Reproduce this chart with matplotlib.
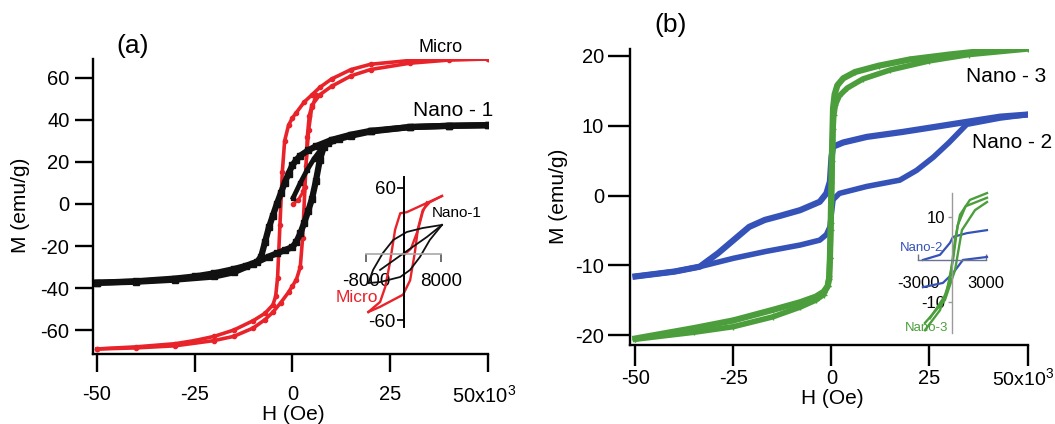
import matplotlib
matplotlib.use('Agg')
import matplotlib.pyplot as plt

plt.rcParams['font.family'] = ['Liberation Sans', 'DejaVu Sans']
plt.rcParams['mathtext.fontset'] = 'custom'
plt.rcParams['mathtext.rm'] = 'Liberation Sans'
plt.rcParams['mathtext.it'] = 'Liberation Sans'

W, H = 1055, 424
RED, BLACK, GREEN, BLUE = '#e8232a', '#111111', '#4c9e3c', '#3552b8'

# ---- panel (a): H in kOe, M in emu/g ----
micro_dn_h = [50, 40, 30, 20, 15, 10, 7, 5, 3, 1, 0, -1, -2, -2.6, -3.2, -3.8, -4.3, -5, -7, -10, -15, -20, -25, -30, -40, -50]
micro_dn_m = [69, 68.8, 68.3, 66.5, 64, 59.5, 55.5, 52, 48.5, 43.5, 41, 37.5, 30, 15, -10, -35, -44, -48, -52, -55.5, -60, -63, -65, -66.5, -68, -69]
micro_up_h = [-50, -40, -30, -20, -15, -10, -7, -5, -3, -1, 0, 1, 2, 2.6, 3.2, 3.8, 4.3, 5, 7, 10, 15, 20, 30, 40, 50]
micro_up_m = [-69, -68.5, -67.5, -65, -63, -59, -55, -51.5, -47, -42, -39, -36, -30, -16, 8, 32, 42, 47, 52, 56, 61, 64, 67, 68.5, 69]
micro_v_h = [0.2, 1.5, 2.8, 3.5, 4.2, 5.0, 6.0]
micro_v_m = [0, 2, 6, 18, 35, 46, 52]

nano1_dn_h = [50, 40, 30, 20, 15, 10, 6, 4, 2, 1, 0, -1, -2, -3, -4, -5, -6, -7, -8, -9, -12, -15, -20, -25, -30, -40, -50]
nano1_dn_m = [37.5, 37.2, 36.6, 34.8, 33, 30.5, 27.5, 25.5, 23, 21, 18.5, 14.5, 10, 5, 0, -5.5, -11, -18, -25, -27.5, -29.5, -31, -33, -34.5, -35.5, -36.8, -37.5]
nano1_up_h = [-50, -40, -30, -20, -15, -10, -6, -4, -2, 0, 1, 2, 3, 4, 5, 6, 7, 8, 9, 12, 15, 20, 30, 40, 50]
nano1_up_m = [-37.5, -37, -36, -34.5, -32.5, -28.5, -25, -23.5, -22, -20.5, -18, -14, -9, -3.5, 2.5, 11, 21, 27, 29, 31, 32.5, 34.5, 36.6, 37.2, 37.5]
nano1_v_h = [0.2, 2, 3.7, 5.5, 7.5]
nano1_v_m = [3, 10, 16, 21.5, 26.5]

# inset (a): H in Oe
in_micro_dn_h = [8100, 600, -800, -1900, -3000, -4000, -5100, -7600]
in_micro_dn_m = [52.7, 38, 37, 22, -8, -30, -43.6, -52.7]
in_micro_up_h = [-7600, -5100, -200, 1300, 2300, 3000, 4000, 5500, 8100]
in_micro_up_m = [-52.7, -48, -37, -24, 0.9, 23.6, 40, 47, 52.7]
in_micro_v_h = [0, 1500, 3000, 4000, 4900]
in_micro_v_m = [-1, 5, 22, 38, 47]
in_nano1_dn_h = [8100, 4000, 600, -2300, -4500, -6600, -7600]
in_nano1_dn_m = [26.4, 23.6, 20, 12.7, 0.9, -14.5, -26.4]
in_nano1_up_h = [-7600, -5100, -800, 1300, 3400, 5500, 8100]
in_nano1_up_m = [-26.4, -25.5, -20.9, -14.5, -2.7, 12.7, 26.4]
in_nano1_v_h = [-5100, 0, 4900, 8100]
in_nano1_v_m = [-14.5, 0.9, 15.5, 26.4]

# ---- panel (b) ----
nano3_dn_h = [50, 40, 30, 20, 12, 6, 3, 1.5, 0.8, 0.4, 0.2, 0, -0.2, -0.4, -0.6, -1, -2, -4, -8, -15, -25, -35, -50]
nano3_dn_m = [21.2, 20.8, 20.2, 19.5, 18.6, 17.7, 16.8, 15.8, 14.5, 12.5, 8, 2, -4, -9, -12, -13, -13.8, -14.5, -15.3, -16.4, -17.9, -19, -20.5]
nano3_up_h = [-50, -35, -25, -15, -8, -4, -2, -1, -0.6, -0.4, -0.2, 0, 0.2, 0.4, 0.6, 1, 2, 4, 8, 15, 25, 35, 50]
nano3_up_m = [-20.6, -19.6, -18.8, -17.4, -16, -15, -14.2, -13, -11.5, -9, -5, 0, 5, 9.5, 11.5, 13, 14.3, 15.4, 16.7, 18, 19.3, 20.2, 21]

nano2_dn_h = [50, 43, 35, 26, 18, 9, 3, 0.4, 0, -0.4, -1.3, -3, -8, -13, -17, -21, -25, -29, -33.6, -40, -50]
nano2_dn_m = [11.6, 11.3, 10.6, 9.8, 9.1, 8.4, 7.6, 7.0, 5.5, 2, 0.3, -0.9, -2.1, -2.9, -3.5, -4.5, -6.4, -8.3, -10.2, -10.9, -11.6]
nano2_up_h = [-50, -40, -33.6, -25, -16.6, -8, -3, -1.3, -0.4, 0, 0.4, 2, 9, 17.4, 21.7, 26, 30, 34.5, 43, 50]
nano2_up_m = [-11.6, -10.9, -10.2, -9, -8, -7.1, -6.4, -5.6, -4.5, -2.5, -0.6, 0.3, 1.3, 2.2, 3.6, 5.5, 7.6, 10.2, 11.1, 11.6]

# inset (b)
in_nano2_a_h = [-2570, -1060, -180, 90, 1330, 3100]
in_nano2_a_m = [-0.1, 1.1, 3.9, 5.3, 6.2, 6.9]
in_nano2_b_h = [-2570, -800, 90, 970, 3100]
in_nano2_b_m = [-6.5, -5.5, -3.2, -0.1, 0.6]
in_nano3_a_h = [-2390, -1060, -180, 270, 710, 1590, 3100]
in_nano3_a_m = [-16.6, -11.9, -4.8, 4.6, 10.5, 14, 15.6]
in_nano3_b_h = [-2390, -620, 270, 880, 2040, 3100]
in_nano3_b_m = [-14.9, -9.5, -2.5, 6.9, 11.6, 13.5]
in_nano3_c_h = [-1950, -500, 100, 500, 1200, 3100]
in_nano3_c_m = [-13.8, -8, 0, 8, 12.5, 14.5]


def box(x0, y0, x1, y1):
    # pixel box (top-left origin) -> figure fraction rect
    return [x0 / W, 1 - y1 / H, (x1 - x0) / W, (y1 - y0) / H]


def ftext(x, y, s, **kw):
    kw.setdefault('ha', 'center')
    kw.setdefault('va', 'center')
    fig.text(x / W, 1 - y / H, s, **kw)


def style_main(ax, xlen, ylen, xpad, ypad):
    ax.patch.set_visible(False)
    for s in ['top', 'right']:
        ax.spines[s].set_visible(False)
    for s in ['left', 'bottom']:
        ax.spines[s].set_linewidth(1.7)
    ax.tick_params(axis='x', length=xlen, width=1.7, pad=xpad, labelsize=14.5)
    ax.tick_params(axis='y', length=ylen, width=1.7, pad=ypad, labelsize=14.5)
    ax.set_xticks([-50, -25, 0, 25, 50])
    ax.set_xticklabels(['-50', '-25', '0', '25', ''])


fig = plt.figure(figsize=(W / 100, H / 100), dpi=100)

# ---------- (a) ----------
ax1 = fig.add_axes(box(93, 59, 488, 354))
ax1.plot(micro_dn_h, micro_dn_m, color=RED, lw=2.6, marker='o', ms=3)
ax1.plot(micro_up_h, micro_up_m, color=RED, lw=2.6, marker='o', ms=3)
ax1.plot(micro_v_h, micro_v_m, color=RED, lw=2.2, marker='o', ms=3)
ax1.plot(nano1_dn_h, nano1_dn_m, color=BLACK, lw=4.5, marker='s', ms=4)
ax1.plot(nano1_up_h, nano1_up_m, color=BLACK, lw=4.5, marker='s', ms=4)
ax1.plot(nano1_v_h, nano1_v_m, color=BLACK, lw=3.5, marker='s', ms=3.5)
ax1.set_xlim(-51, 50)
ax1.set_ylim(-71.4, 69)
ax1.set_yticks([-60, -40, -20, 0, 20, 40, 60])
ax1.set_yticklabels(['-60', '-40', '-20', '0', '20', '40', '60'])
style_main(ax1, 13, 13, 9, 4)

ftext(133, 46, '(a)', fontsize=19)
ftext(441, 48, 'Micro', fontsize=13)
ftext(453, 110, 'Nano - 1', fontsize=15)
ftext(484, 396, '50x10$^3$', fontsize=14.5)
ftext(293, 414, 'H (Oe)', fontsize=15)
ftext(21, 205, 'M (emu/g)', fontsize=15, rotation=90)

# inset (a)
ia = fig.add_axes(box(355, 172, 455, 332))
ia.patch.set_visible(False)
ia.plot(in_micro_dn_h, in_micro_dn_m, color=RED, lw=1.7)
ia.plot(in_micro_up_h, in_micro_up_m, color=RED, lw=1.7)
ia.plot(in_micro_v_h, in_micro_v_m, color=RED, lw=1.7)
ia.plot(in_nano1_dn_h, in_nano1_dn_m, color=BLACK, lw=1.3)
ia.plot(in_nano1_up_h, in_nano1_up_m, color=BLACK, lw=1.3)
ia.plot(in_nano1_v_h, in_nano1_v_m, color=BLACK, lw=1.3)
ia.set_xlim(-10450, 10880)
ia.set_ylim(-70.9, 74.5)
for s in ['top', 'right']:
    ia.spines[s].set_visible(False)
ia.spines['left'].set_position(('data', 0))
ia.spines['left'].set_bounds(-66.4, 70)
ia.spines['left'].set_linewidth(1.4)
ia.spines['bottom'].set_position(('data', 0))
ia.spines['bottom'].set_bounds(-8000, 8000)
ia.spines['bottom'].set_color('#a8a8a8')
ia.spines['bottom'].set_linewidth(1.2)
ia.set_xticks([-8000, 8000])
ia.set_xticklabels(['-8000', '8000'])
ia.set_yticks([-60, 60])
ia.set_yticklabels(['-60', '60'])
ia.tick_params(axis='x', length=6, width=1.2, color='#555555', pad=8, labelsize=13.5)
ia.tick_params(axis='y', length=5, width=1.2, pad=1, labelsize=13.5)
ftext(457, 213, 'Nano-1', fontsize=11)
ftext(357, 298, 'Micro', fontsize=12.5, color=RED)

# ---------- (b) ----------
ax2 = fig.add_axes(box(630.4, 49, 1027.5, 345))
ax2.plot(nano2_dn_h, nano2_dn_m, color=BLUE, lw=4.5)
ax2.plot(nano2_up_h, nano2_up_m, color=BLUE, lw=4)
ax2.plot(nano3_dn_h, nano3_dn_m, color=GREEN, lw=4.5, marker='+', ms=4)
ax2.plot(nano3_up_h, nano3_up_m, color=GREEN, lw=4, marker='+', ms=4)
ax2.set_xlim(-51.3, 50)
ax2.set_ylim(-21.43, 21)
ax2.set_yticks([-20, -10, 0, 10, 20])
ax2.set_yticklabels(['-20', '-10', '0', '10', '20'])
style_main(ax2, 15, 16, 2, 3)

ftext(671, 25, '(b)', fontsize=19)
ftext(1006, 77, 'Nano - 3', fontsize=15)
ftext(1012, 142, 'Nano - 2', fontsize=15)
ftext(1023, 378, '50x10$^3$', fontsize=14)
ftext(832, 399, 'H (Oe)', fontsize=15)
ftext(559, 196, 'M (emu/g)', fontsize=15, rotation=90)

# inset (b)
ib = fig.add_axes(box(895, 185, 1000, 340))
ib.patch.set_visible(False)
ib.plot(in_nano2_a_h, in_nano2_a_m, color=BLUE, lw=1.6)
ib.plot(in_nano2_b_h, in_nano2_b_m, color=BLUE, lw=1.6)
ib.plot(in_nano3_a_h, in_nano3_a_m, color=GREEN, lw=1.7)
ib.plot(in_nano3_b_h, in_nano3_b_m, color=GREEN, lw=1.7)
ib.plot(in_nano3_c_h, in_nano3_c_m, color=GREEN, lw=1.7)
ib.set_xlim(-5040, 4250)
ib.set_ylim(-18.9, 17.5)
for s in ['top', 'right']:
    ib.spines[s].set_visible(False)
ib.spines['left'].set_position(('data', 0))
ib.spines['left'].set_bounds(-17.3, 15.6)
ib.spines['left'].set_color('#9a9a9a')
ib.spines['left'].set_linewidth(1)
ib.spines['bottom'].set_position(('data', 0))
ib.spines['bottom'].set_bounds(-3000, 3000)
ib.spines['bottom'].set_color('#6a7490')
ib.spines['bottom'].set_linewidth(1)
ib.set_xticks([-3000, 3000])
ib.set_xticklabels(['-3000', '3000'])
ib.set_yticks([-10, 10])
ib.set_yticklabels(['-10', '10'])
ib.tick_params(axis='x', direction='in', length=4, width=1, color='#6a7490', pad=12, labelsize=12)
ib.tick_params(axis='y', length=3, width=1, color='#9a9a9a', pad=2, labelsize=12)
ftext(922, 248, 'Nano-2', fontsize=9.5, color=BLUE)
ftext(927, 328, 'Nano-3', fontsize=9.5, color=GREEN)

fig.savefig('out.png', dpi=100)
